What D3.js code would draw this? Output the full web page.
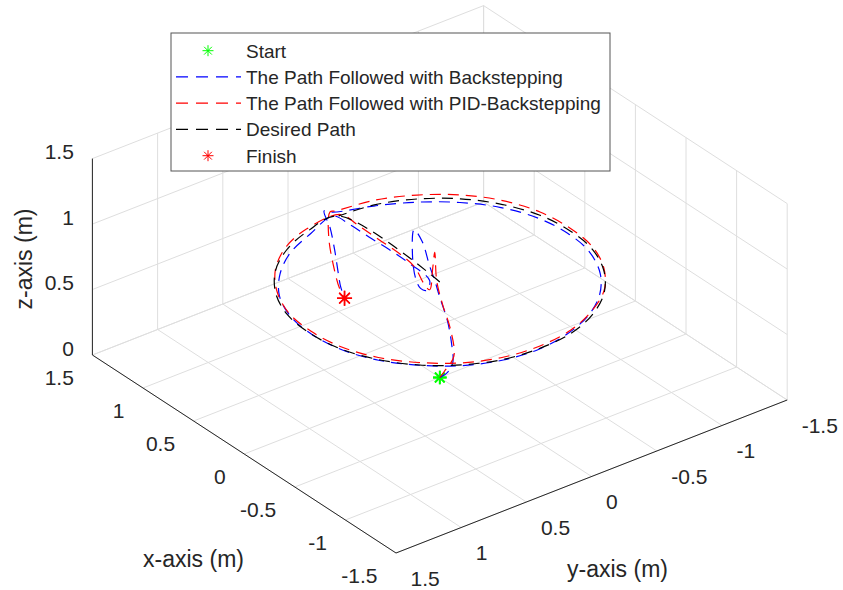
<!DOCTYPE html>
<html>
<head>
<meta charset="utf-8">
<script src="https://cdn.jsdelivr.net/npm/d3@7/dist/d3.min.js"></script>
<style>
  html, body { margin: 0; padding: 0; background: #ffffff; }
  svg { display: block; }
</style>
</head>
<body>
<svg id="chart" width="843" height="590"></svg>
<script>
// ---- Axis ticks -----------------------------------------------------------
const xTicks = [-1.5, -1, -0.5, 0, 0.5, 1, 1.5];
const yTicks = [-1.5, -1, -0.5, 0, 0.5, 1, 1.5];
const zTicks = [0, 0.5, 1, 1.5];
const xTickLabels = ["-1.5", "-1", "-0.5", "0", "0.5", "1", "1.5"];
const yTickLabels = ["-1.5", "-1", "-0.5", "0", "0.5", "1", "1.5"];
const zTickLabels = ["0", "0.5", "1", "1.5"];

// ---- Desired path: centre -> (1,0) then one lap of the unit circle ------
const desiredX = [0, 1, 0.97, 0.87, 0.71, 0.5, 0.26, 0, -0.26, -0.5, -0.71, -0.87, -0.97, -1, -0.97, -0.87, -0.71, -0.5, -0.26, 0, 0.26, 0.5, 0.71, 0.87, 0.97, 1];
const desiredY = [0, 0, 0.26, 0.5, 0.71, 0.87, 0.97, 1, 0.97, 0.87, 0.71, 0.5, 0.26, 0, -0.26, -0.5, -0.71, -0.87, -0.97, -1, -0.97, -0.87, -0.71, -0.5, -0.26, 0];
const desiredZ = [0.73, 0.73, 0.73, 0.73, 0.73, 0.73, 0.73, 0.73, 0.73, 0.73, 0.73, 0.73, 0.73, 0.73, 0.73, 0.73, 0.73, 0.73, 0.73, 0.73, 0.73, 0.73, 0.73, 0.73, 0.73, 0.73];

// ---- Path followed with backstepping -------------------------------------
const bsX = [0, -0.04, -0.09, -0.09, -0.05, 0.03, 0.06, 0.1, 0.2, 0.28, 0.27, 0.24, 0.19, 0.13, 0.1, 0.3, 0.5, 0.7, 0.88, 1.02,
  0.95, 0.85, 0.69, 0.49, 0.25, 0, -0.25, -0.49, -0.69, -0.85, -0.95, -0.98, -0.94, -0.84, -0.69, -0.49, -0.25, 0, 0.25, 0.49, 0.69, 0.85, 0.96, 1.02,
  1.04, 1.02, 1.0, 0.99, 0.98, 0.98];
const bsY = [0, -0.03, -0.03, -0.02, -0.02, -0.02, -0.01, 0, -0.02, -0.02, 0, 0, 0, 0, 0, 0, 0, 0, 0, 0.03,
  0.25, 0.49, 0.69, 0.85, 0.95, 0.98, 0.95, 0.85, 0.69, 0.49, 0.25, 0, -0.25, -0.49, -0.69, -0.85, -0.95, -0.98, -0.95, -0.85, -0.69, -0.49, -0.25, 0.03,
  0.08, 0.05, 0.03, 0.01, 0, -0.03];
const bsZ = [0, 0.05, 0.15, 0.3, 0.45, 0.6, 0.7, 0.8, 0.93, 0.98, 0.8, 0.64, 0.585, 0.6, 0.69, 0.72, 0.725, 0.72, 0.72, 0.73,
  0.72, 0.71, 0.71, 0.71, 0.71, 0.71, 0.71, 0.71, 0.71, 0.71, 0.71, 0.71, 0.71, 0.71, 0.71, 0.71, 0.72, 0.72, 0.72, 0.72, 0.72, 0.72, 0.73, 0.76,
  0.78, 0.65, 0.48, 0.3, 0.2, 0.1];

// ---- Path followed with PID-backstepping ---------------------------------
const pidX = [0, -0.02, -0.1, -0.08, -0.02, 0.03, 0.05, 0.07, 0.1, 0.16, 0.25, 0.4, 0.6, 0.8, 0.97,
  0.97, 0.87, 0.71, 0.5, 0.26, 0, -0.26, -0.5, -0.7, -0.86, -0.96, -0.99, -0.96, -0.86, -0.71, -0.5, -0.26, 0, 0.26, 0.5, 0.71, 0.87, 0.97, 1.01,
  1.02, 1.02, 1.0, 0.99, 0.98];
const pidY = [0, -0.02, -0.03, -0.02, -0.01, 0, 0, 0, 0, 0, 0, 0, 0, 0, 0.01,
  0.27, 0.51, 0.71, 0.86, 0.96, 0.99, 0.96, 0.86, 0.7, 0.5, 0.26, 0, -0.26, -0.5, -0.71, -0.87, -0.97, -1, -0.97, -0.87, -0.71, -0.5, -0.26, 0.02,
  0.05, 0.06, 0.03, 0, -0.03];
const pidZ = [0, 0.05, 0.2, 0.4, 0.55, 0.72, 0.93, 0.8, 0.62, 0.64, 0.72, 0.745, 0.75, 0.755, 0.76,
  0.75, 0.75, 0.74, 0.74, 0.74, 0.74, 0.74, 0.74, 0.74, 0.74, 0.74, 0.74, 0.745, 0.75, 0.75, 0.75, 0.75, 0.75, 0.755, 0.76, 0.76, 0.76, 0.765, 0.77,
  0.77, 0.58, 0.32, 0.18, 0.1];

const legendLabels = ["Start", "The Path Followed with Backstepping", "The Path Followed with PID-Backstepping", "Desired Path", "Finish"];

// ---- Fixed view (orthographic 3-D box) ------------------------------------
const FONT = "'Liberation Sans', Arial, Helvetica, sans-serif";
const TEXT = "#262626";
const origin = [439.8, 377.5];                     // screen position of (0,0,0)
const xScale = d3.scaleLinear().domain([-1.5, 1.5]).range([[151.8, 99.0], [-151.8, -99.0]]);
const yScale = d3.scaleLinear().domain([-1.5, 1.5]).range([[195.6, -76.5], [-195.6, 76.5]]);
const zScale = d3.scaleLinear().domain([0, 1.5]).range([0, -196.4]);

function project(x, y, z) {
  const a = xScale(x), b = yScale(y);
  return [origin[0] + a[0] + b[0], origin[1] + a[1] + b[1] + zScale(z)];
}
function unitOf(scale) {
  const a = scale(1), b = scale(0);
  const dx = a[0] - b[0], dy = a[1] - b[1], L = Math.hypot(dx, dy);
  return [dx / L, dy / L];
}
const ux = unitOf(xScale), uy = unitOf(yScale);

const svg = d3.select("#chart");
const seg = (p, q) => `M${p[0]},${p[1]}L${q[0]},${q[1]}`;

// ---- Grid: floor and the two back walls -----------------------------------
const grid = svg.append("g").attr("stroke", "#dedede").attr("stroke-width", 1).attr("fill", "none");
const gridSegs = [];
xTicks.forEach(x => gridSegs.push([project(x, -1.5, 0), project(x, 1.5, 0)]));
yTicks.forEach(y => gridSegs.push([project(-1.5, y, 0), project(1.5, y, 0)]));
yTicks.forEach(y => gridSegs.push([project(1.5, y, 0), project(1.5, y, 1.5)]));
zTicks.forEach(z => gridSegs.push([project(1.5, -1.5, z), project(1.5, 1.5, z)]));
xTicks.forEach(x => gridSegs.push([project(x, -1.5, 0), project(x, -1.5, 1.5)]));
zTicks.forEach(z => gridSegs.push([project(-1.5, -1.5, z), project(1.5, -1.5, z)]));
grid.selectAll("path").data(gridSegs).join("path").attr("d", d => seg(d[0], d[1]));

// ---- Axis lines, ticks and tick labels ------------------------------------
const axes = svg.append("g").attr("stroke", TEXT).attr("stroke-width", 1).attr("fill", "none");
axes.append("path").attr("d", seg(project(1.5, 1.5, 0), project(1.5, 1.5, 1.5)));
axes.append("path").attr("d", seg(project(1.5, 1.5, 0), project(-1.5, 1.5, 0)));
axes.append("path").attr("d", seg(project(-1.5, 1.5, 0), project(-1.5, -1.5, 0)));

const TL = 10.5;
const labels = svg.append("g").attr("font-family", FONT).attr("font-size", 21).attr("fill", TEXT);

zTicks.forEach((z, i) => {
  const p = project(1.5, 1.5, z);
  axes.append("path").attr("d", seg(p, [p[0] + ux[0] * TL, p[1] + ux[1] * TL]));
  labels.append("text").attr("x", p[0] - 18.5).attr("y", p[1] + 0.5)
    .attr("text-anchor", "end").text(zTickLabels[i]);
});
xTicks.forEach((x, i) => {
  const p = project(x, 1.5, 0);
  axes.append("path").attr("d", seg(p, [p[0] + uy[0] * TL, p[1] + uy[1] * TL]));
  labels.append("text").attr("x", p[0] - 18.5).attr("y", p[1] + 30)
    .attr("text-anchor", "end").text(xTickLabels[i]);
});
yTicks.forEach((y, i) => {
  const p = project(-1.5, y, 0);
  axes.append("path").attr("d", seg(p, [p[0] - ux[0] * TL, p[1] - ux[1] * TL]));
  labels.append("text").attr("x", p[0] + 14.5).attr("y", p[1] + 32.5)
    .attr("text-anchor", "start").text(yTickLabels[i]);
});

// axis titles
const titles = svg.append("g").attr("font-family", FONT).attr("font-size", 23).attr("fill", TEXT).attr("text-anchor", "middle");
titles.append("text").attr("transform", "translate(32,259) rotate(-90)").text("z-axis (m)");
titles.append("text").attr("x", 193.5).attr("y", 567).text("x-axis (m)");
titles.append("text").attr("x", 617.5).attr("y", 577).text("y-axis (m)");

// ---- Trajectories ---------------------------------------------------------
const toPts = (xs, ys, zs) => xs.map((x, i) => project(x, ys[i], zs[i]));
const line = d3.line().curve(d3.curveCatmullRom.alpha(0.5));
const DASH = "11,7";

const series = [
  { pts: toPts(bsX, bsY, bsZ), color: "#0000ff" },
  { pts: toPts(pidX, pidY, pidZ), color: "#ff0000" },
  { pts: toPts(desiredX, desiredY, desiredZ), color: "#000000" }
];

// asterisk marker (plus + cross)
function asterisk(cx, cy, s) {
  const d = s * 0.7071;
  return `M${cx},${cy - s}L${cx},${cy + s}M${cx - s},${cy}L${cx + s},${cy}` +
         `M${cx - d},${cy - d}L${cx + d},${cy + d}M${cx - d},${cy + d}L${cx + d},${cy - d}`;
}

const plot = svg.append("g");
// start markers
[series[0], series[1]].forEach(s => {
  const p = s.pts[0];
  plot.append("path").attr("d", asterisk(p[0], p[1], 6.8)).attr("stroke", "#00ff00").attr("stroke-width", 1.8).attr("fill", "none");
});
series.forEach(s => {
  plot.append("path").attr("d", line(s.pts)).attr("fill", "none")
    .attr("stroke", s.color).attr("stroke-width", 1.2).attr("stroke-dasharray", DASH);
});
// finish markers
[series[0], series[1]].forEach(s => {
  const p = s.pts[s.pts.length - 1];
  plot.append("path").attr("d", asterisk(p[0], p[1], 7.5)).attr("stroke", "#ff0000").attr("stroke-width", 1.5).attr("fill", "none");
});

// ---- Legend ---------------------------------------------------------------
const legend = svg.append("g");
legend.append("rect").attr("x", 171).attr("y", 33).attr("width", 439).attr("height", 138)
  .attr("fill", "#ffffff").attr("stroke", "#555555").attr("stroke-width", 1);
const rowY = i => 50.7 + i * 26.25;
const legendKinds = [
  { kind: "marker", color: "#00ff00" },
  { kind: "line", color: "#0000ff" },
  { kind: "line", color: "#ff0000" },
  { kind: "line", color: "#000000" },
  { kind: "marker", color: "#ff0000" }
];
legendKinds.forEach((k, i) => {
  const y = rowY(i);
  if (k.kind === "marker") {
    legend.append("path").attr("d", asterisk(208, y, 5.5)).attr("stroke", k.color).attr("stroke-width", 1).attr("fill", "none");
  } else {
    legend.append("path").attr("d", `M176,${y}L241,${y}`).attr("stroke", k.color)
      .attr("stroke-width", 1.2).attr("stroke-dasharray", "12,8");
  }
  legend.append("text").attr("x", 246).attr("y", y + 6.8)
    .attr("font-family", FONT).attr("font-size", 19).attr("fill", TEXT).text(legendLabels[i]);
});
</script>
</body>
</html>
